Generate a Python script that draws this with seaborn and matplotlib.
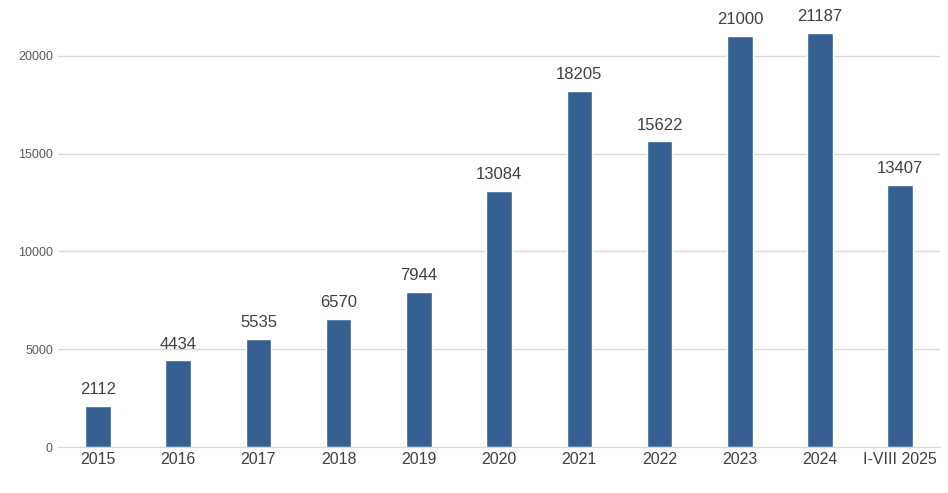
import matplotlib
matplotlib.use("Agg")
import matplotlib.pyplot as plt
import seaborn as sns
import pandas as pd

categories = ["2015","2016","2017","2018","2019","2020","2021","2022","2023","2024","I-VIII 2025"]
values = [2112,4434,5535,6570,7944,13084,18205,15622,21000,21187,13407]
yticks = [0,5000,10000,15000,20000]

df = pd.DataFrame({"cat": categories, "val": values})
sns.set_style("white")
plt.rcParams['font.family'] = ['Liberation Sans', 'DejaVu Sans']

fig = plt.figure(figsize=(9.48,4.93), dpi=100)
ax = fig.add_axes([0.061,0.093,0.931,0.893])
sns.barplot(data=df, x="cat", y="val", color="#376092", saturation=1, width=0.32, ax=ax)
for p, v in zip(ax.patches, values):
    ax.text(p.get_x()+p.get_width()/2, v+450, str(v), ha="center", va="bottom", fontsize=12, color="#404040")
ax.set_ylim(0,22500)
ax.set_xlim(-0.5, len(categories)-0.5)
ax.set_yticks(yticks)
ax.set_yticklabels([str(t) for t in yticks], fontsize=9, color="#595959")
ax.tick_params(axis="x", labelsize=11.5, labelcolor="#404040", length=0)
ax.tick_params(axis="y", length=0)
ax.yaxis.grid(True, color="#d9d9d9", linewidth=1)
ax.set_axisbelow(True)
for s in ["top","right","left"]:
    ax.spines[s].set_visible(False)
ax.spines["bottom"].set_color("#d9d9d9")
ax.set_xlabel(""); ax.set_ylabel("")
fig.savefig("out.png", dpi=100)
